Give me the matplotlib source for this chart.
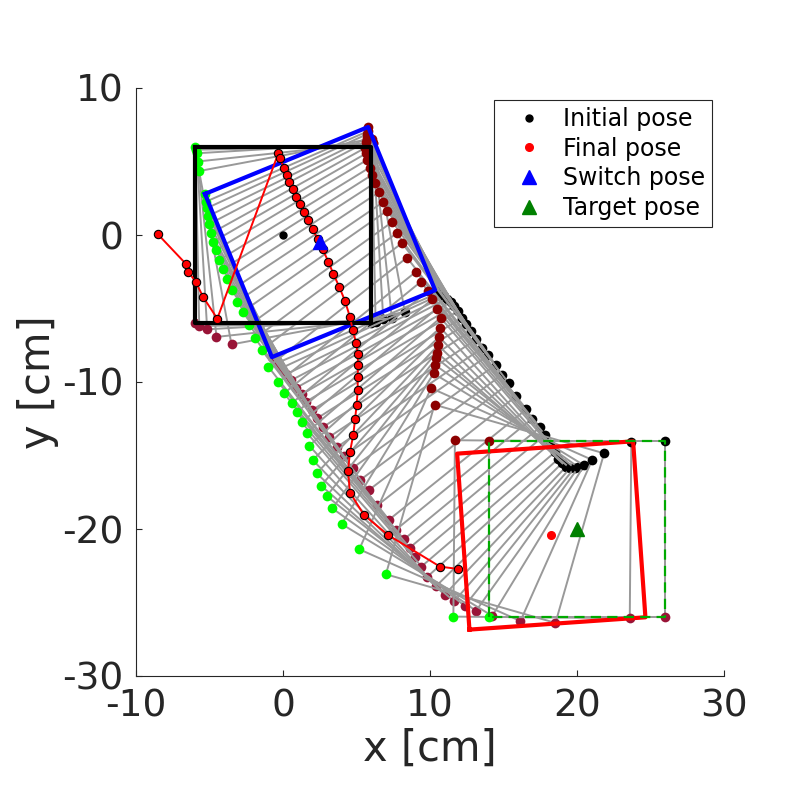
import numpy as np
import matplotlib
matplotlib.use("Agg")
from matplotlib import pyplot as plt

plt.rcParams['font.family'] = ['DejaVu Sans']

half = 6.0  # half side of the box [cm]

# phase 1 : initial pose -> switch pose
# read at the green (top-left) corner, angle in degrees
p1_gx = [-6.00, -5.95, -5.87, -5.80, -5.71]
p1_gy = [6.00, 5.80, 5.56, 5.00, 4.35]
p1_th = [0.0, 1.2, 3.4, 6.1, 10.6]

# phase 2 : switch pose -> target pose
p2_gx = [-5.31, -5.24, -5.19, -5.08, -5.01, -4.90, -4.74, -4.56, -4.33, -4.10,
         -3.83, -3.49, -3.11, -2.74, -2.29, -1.90, -1.45, -1.00, -0.31, 0.07,
         0.59, 0.93, 1.27, 1.61, 1.79, 2.02, 2.29, 2.59, 2.97, 3.36,
         3.99, 5.19, 7.00, 11.59, 14.00]
p2_gy = [2.79, 2.27, 1.82, 1.29, 0.75, 0.11, -0.45, -1.02, -1.70, -2.33,
         -3.01, -3.74, -4.53, -5.22, -6.12, -7.03, -7.82, -8.96, -10.02, -10.77,
         -11.45, -12.06, -12.74, -13.44, -14.33, -15.31, -16.21, -17.05, -17.76, -18.60,
         -19.66, -21.38, -23.08, -25.96, -26.00]
p2_th = [22.3, 23.5, 24.8, 26.2, 27.6, 29.0, 30.0, 30.8, 31.6, 32.3,
         33.0, 33.6, 34.3, 35.0, 35.8, 36.6, 37.3, 38.2, 38.8, 39.2,
         39.5, 39.8, 40.1, 40.6, 42.0, 44.3, 46.5, 49.0, 51.5, 54.5,
         58.6, 66.0, 74.0, 89.5, 90.0]

# poses (center x, center y, angle)
init_pose = (0.0, 0.0, 0.0)
switch_pose = (2.52, -0.48, 22.3)
final_pose = (18.25, -20.44, 94.0)
target_pose = (20.0, -20.0, 90.0)

# pusher path
pusher_x = [-8.53, -6.60, -6.44, -5.95, -5.42, -4.47, -0.32, -0.20, 0.07, 0.25,
            0.43, 0.66, 0.88, 1.16, 1.43, 1.72, 2.02, 2.36, 2.70, 3.08,
            3.43, 3.84, 4.22, 4.56, 4.74, 4.97, 5.08, 5.10, 5.08, 5.08,
            5.01, 4.90, 4.78, 4.56, 4.42, 4.56, 5.51, 7.15, 10.68, 11.93]
pusher_y = [0.07, -1.97, -2.50, -3.17, -4.24, -5.69, 5.56, 5.22, 4.54, 4.08,
            3.63, 3.11, 2.56, 2.11, 1.59, 1.02, 0.39, -0.29, -0.97, -1.81,
            -2.65, -3.56, -4.49, -5.60, -6.46, -7.32, -8.11, -8.84, -9.68, -10.54,
            -11.56, -12.54, -13.60, -14.74, -16.05, -17.53, -19.05, -20.41, -22.56, -22.72]

# corner order : top-left, top-right, bottom-right, bottom-left
local = np.array([[-1, 1], [1, 1], [1, -1], [-1, -1]]) * half
corner_cols = ['#00ff00', '#8c0000', 'black', '#991437']


def corners(cx, cy, th):
    t = np.deg2rad(th)
    R = np.array([[np.cos(t), -np.sin(t)], [np.sin(t), np.cos(t)]])
    return local @ R.T + np.array([cx, cy])


def closed(c):
    return np.r_[c[:, 0], c[0, 0]], np.r_[c[:, 1], c[0, 1]]


fig = plt.figure(figsize=(8, 8), dpi=100)
ax = fig.add_axes([0.17, 0.155, 0.735, 0.735])

gx = p1_gx + p2_gx
gy = p1_gy + p2_gy
th = p1_th + p2_th
for i in range(len(gx)):
    off = corners(0, 0, th[i])[0]
    c = corners(gx[i] - off[0], gy[i] - off[1], th[i])
    px, py = closed(c)
    ax.plot(px, py, color='0.6', lw=1.4, zorder=1)
    for k in range(4):
        ax.plot(c[k, 0], c[k, 1], 'o', ms=7, color=corner_cols[k], mec='none', zorder=1)

# switch, initial, final and target boxes
px, py = closed(corners(*switch_pose))
ax.plot(px, py, color='blue', lw=3, zorder=2)
px, py = closed(corners(*init_pose))
ax.plot(px, py, color='black', lw=3, zorder=2)

ax.plot(pusher_x, pusher_y, '-o', color='red', lw=1.4, ms=6, mec='black', mew=0.8, zorder=3)

px, py = closed(corners(*final_pose))
ax.plot(px, py, color='red', lw=3, zorder=3)
px, py = closed(corners(*target_pose))
ax.plot(px, py, color='#00aa00', lw=1.6, ls=(0, (4.6, 2.8)), zorder=3.5)

ax.plot(init_pose[0], init_pose[1], 'o', color='black', ms=5, zorder=4, label='Initial pose')
ax.plot(final_pose[0], final_pose[1], 'o', color='red', ms=5.5, zorder=4, label='Final pose')
ax.plot(switch_pose[0], switch_pose[1], '^', color='blue', ms=10, zorder=4, label='Switch pose')
ax.plot(target_pose[0], target_pose[1], '^', color='green', ms=10, zorder=4, label='Target pose')

ax.set_xlim(-10, 30)
ax.set_ylim(-30, 10)
ax.set_xticks([-10, 0, 10, 20, 30])
ax.set_yticks([-30, -20, -10, 0, 10])
ax.set_xticklabels(['-10', '0', '10', '20', '30'])
ax.set_yticklabels(['-30', '-20', '-10', '0', '10'])
for s in ['top', 'right']:
    ax.spines[s].set_visible(False)
for s in ['left', 'bottom']:
    ax.spines[s].set_color('#262626')
    ax.spines[s].set_linewidth(0.8)
ax.tick_params(direction='in', length=4.5, width=0.8, colors='#262626',
               labelsize=27, pad=9)
ax.set_xlabel('x [cm]', fontsize=30, color='#262626', labelpad=2)
ax.set_ylabel('y [cm]', fontsize=30, color='#262626', labelpad=2)

leg = ax.legend(loc='upper right', bbox_to_anchor=(712 / 800, 700 / 800),
                bbox_transform=fig.transFigure, borderaxespad=0, fontsize=17,
                numpoints=1, handlelength=2.39, handletextpad=0.25, labelspacing=0.24,
                borderpad=0.29, fancybox=False, framealpha=1)
leg.get_frame().set_edgecolor('#262626')
leg.get_frame().set_linewidth(0.8)

fig.savefig('out.png', dpi=100)
